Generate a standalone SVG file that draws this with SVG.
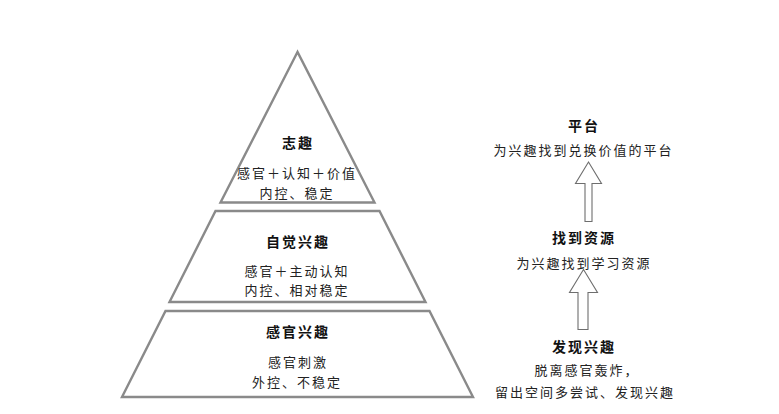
<svg xmlns="http://www.w3.org/2000/svg" width="779" height="414" viewBox="0 0 779 414">
<style>
.lvl{fill:#fff;stroke:#8a8a8a;stroke-width:2.4;stroke-linejoin:miter}
.arr{fill:#fff;stroke:#6e6e6e;stroke-width:1.1}
text{font-family:"Noto Sans CJK SC","Noto Sans",sans-serif;text-anchor:middle}
.t{font-size:14px;font-weight:bold;fill:#111;letter-spacing:2px}
.d{font-size:13px;fill:#222;letter-spacing:2px}
</style>
<rect width="779" height="414" fill="#fff"/>
<g id="level-top">
<polygon class="lvl" points="297.5,52 220.5,202.5 374.5,202.5"/>
<text class="t" x="298" y="148">志趣</text>
<text class="d" x="297" y="178">感官＋认知＋价值</text>
<text class="d" x="297" y="198">内控、稳定</text>
</g>
<g id="level-middle">
<polygon class="lvl" points="215.5,211 379.5,211 425.5,302 169.5,302"/>
<text class="t" x="298" y="247">自觉兴趣</text>
<text class="d" x="297" y="276">感官＋主动认知</text>
<text class="d" x="297" y="295">内控、相对稳定</text>
</g>
<g id="level-bottom">
<polygon class="lvl" points="165.5,311 429.5,311 473,397 122,397"/>
<text class="t" x="298" y="337">感官兴趣</text>
<text class="d" x="298" y="367">感官刺激</text>
<text class="d" x="297" y="387">外控、不稳定</text>
</g>
<g id="stage-platform">
<text class="t" x="584" y="131">平台</text>
<text class="d" x="583.5" y="155">为兴趣找到兑换价值的平台</text>
</g>
<g id="stage-resources">
<text class="t" x="584" y="243">找到资源</text>
<text class="d" x="584" y="268">为兴趣找到学习资源</text>
</g>
<g id="stage-discover">
<text class="t" x="584" y="352">发现兴趣</text>
<text class="d" x="587" y="375">脱离感官轰炸，</text>
<text class="d" x="585" y="397">留出空间多尝试、发现兴趣</text>
</g>
<g id="connectors">
<polygon class="arr" points="588.5,162 601.5,183.5 592,183.5 592,221.5 585,221.5 585,183.5 575.5,183.5"/>
<polygon class="arr" points="583.5,269.5 597.5,292.5 588,292.5 588,329.5 578,329.5 578,292.5 569.5,292.5"/>
</g>
</svg>
